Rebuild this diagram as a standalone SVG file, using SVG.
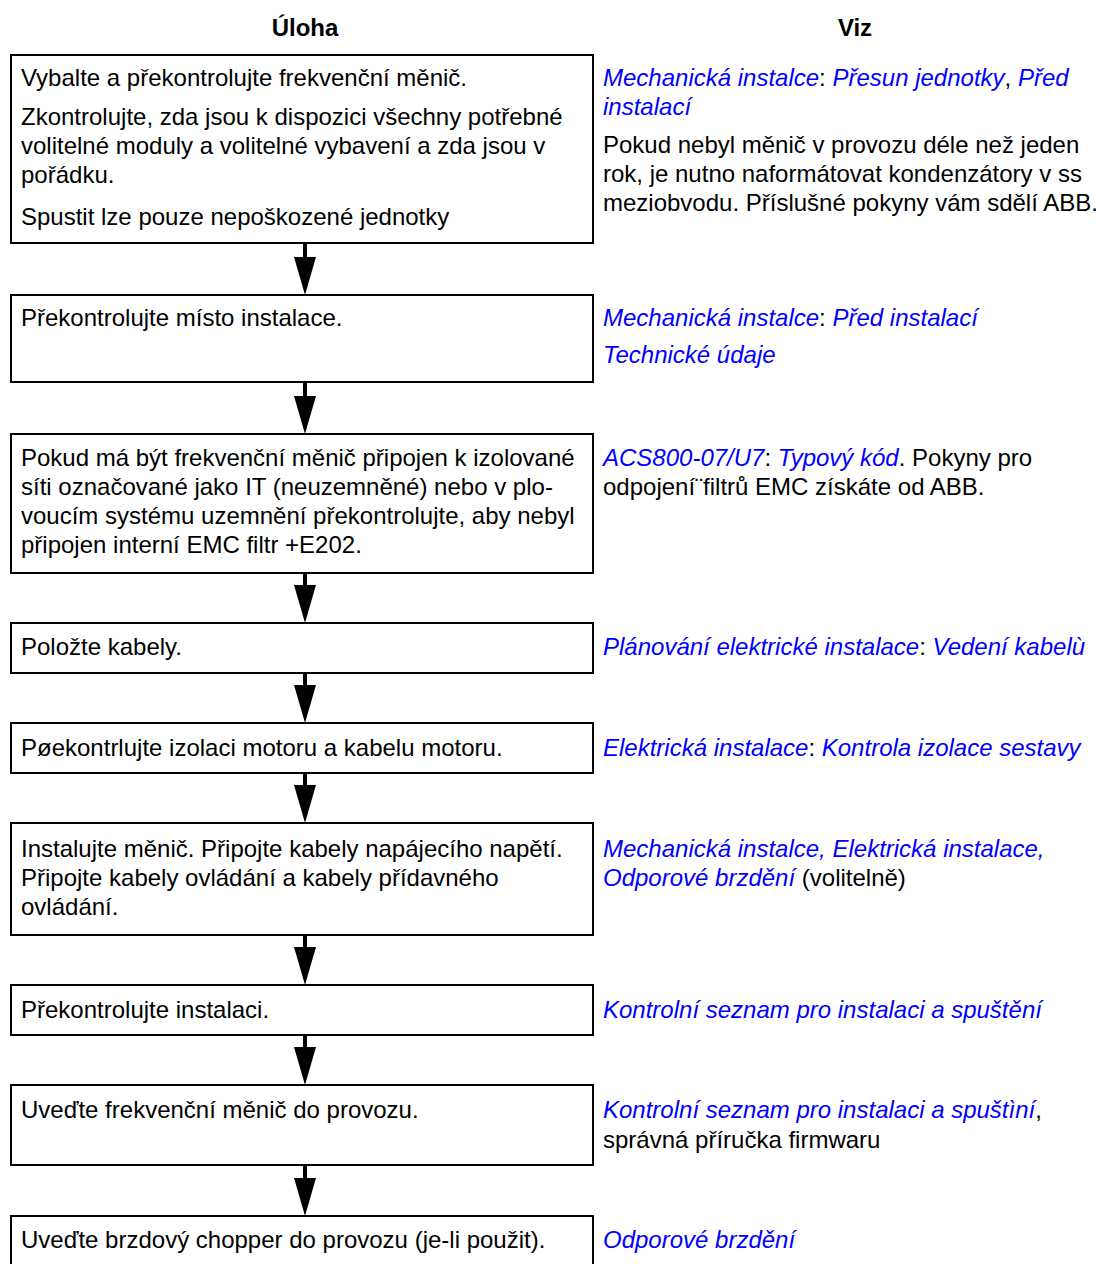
<svg xmlns="http://www.w3.org/2000/svg" width="1096" height="1264" viewBox="0 0 1096 1264">
<style>
text{font-family:"Liberation Sans",Arial,sans-serif;font-size:24px;fill:#000}
.h{font-weight:bold;text-anchor:middle}
.l{fill:#0000ff;font-style:italic}
.box{fill:none;stroke:#000;stroke-width:2}
.arr{fill:#000;stroke:none}
</style>
<rect width="1096" height="1264" fill="#fff"/>
<g id="headers">
<text class="h" x="305" y="36">Úloha</text>
<text class="h" x="855" y="36">Viz</text>
</g>
<g id="n1">
<rect class="box" x="11" y="55" width="582" height="188"/>
<text x="21" y="86">Vybalte a překontrolujte frekvenční měnič.</text>
<text x="21" y="125">Zkontrolujte, zda jsou k dispozici všechny potřebné</text>
<text x="21" y="154">volitelné moduly a volitelné vybavení a zda jsou v</text>
<text x="21" y="183">pořádku.</text>
<text x="21" y="225">Spustit lze pouze nepoškozené jednotky</text>
</g>
<g id="r1">
<text x="603" y="86"><tspan class="l">Mechanická instalce</tspan>: <tspan class="l">Přesun jednotky</tspan>, <tspan class="l">Před</tspan></text>
<text x="603" y="115"><tspan class="l">instalací</tspan></text>
<text x="603" y="153">Pokud nebyl měnič v provozu déle než jeden</text>
<text x="603" y="182">rok, je nutno naformátovat kondenzátory v ss</text>
<text x="603" y="211">meziobvodu. Příslušné pokyny vám sdělí ABB.</text>
</g>
<g id="n2">
<rect class="box" x="11" y="295" width="582" height="87"/>
<text x="21" y="326">Překontrolujte místo instalace.</text>
</g>
<g id="r2">
<text x="603" y="326"><tspan class="l">Mechanická instalce</tspan>: <tspan class="l">Před instalací</tspan></text>
<text x="603" y="363"><tspan class="l">Technické údaje</tspan></text>
</g>
<g id="n3">
<rect class="box" x="11" y="434" width="582" height="139"/>
<text x="21" y="466">Pokud má být frekvenční měnič připojen k izolované</text>
<text x="21" y="495">síti označované jako IT (neuzemněné) nebo v plo-</text>
<text x="21" y="524">voucím systému uzemnění překontrolujte, aby nebyl</text>
<text x="21" y="553">připojen interní EMC filtr +E202.</text>
</g>
<g id="r3">
<text x="603" y="466"><tspan class="l">ACS800-07/U7</tspan>: <tspan class="l">Typový kód</tspan>. Pokyny pro</text>
<text x="603" y="495">odpojení¨filtrů EMC získáte od ABB.</text>
</g>
<g id="n4">
<rect class="box" x="11" y="623" width="582" height="50"/>
<text x="21" y="655">Položte kabely.</text>
</g>
<g id="r4">
<text x="603" y="655"><tspan class="l">Plánování elektrické instalace</tspan>: <tspan class="l">Vedení kabelù</tspan></text>
</g>
<g id="n5">
<rect class="box" x="11" y="723" width="582" height="50"/>
<text x="21" y="756">Pøekontrlujte izolaci motoru a kabelu motoru.</text>
</g>
<g id="r5">
<text x="603" y="756"><tspan class="l">Elektrická instalace</tspan>: <tspan class="l">Kontrola izolace sestavy</tspan></text>
</g>
<g id="n6">
<rect class="box" x="11" y="823" width="582" height="112"/>
<text x="21" y="857">Instalujte měnič. Připojte kabely napájecího napětí.</text>
<text x="21" y="886">Připojte kabely ovládání a kabely přídavného</text>
<text x="21" y="915">ovládání.</text>
</g>
<g id="r6">
<text x="603" y="857"><tspan class="l">Mechanická instalce, Elektrická instalace,</tspan></text>
<text x="603" y="886"><tspan class="l">Odporové brzdění</tspan> (volitelně)</text>
</g>
<g id="n7">
<rect class="box" x="11" y="985" width="582" height="50"/>
<text x="21" y="1018">Překontrolujte instalaci.</text>
</g>
<g id="r7">
<text x="603" y="1018"><tspan class="l">Kontrolní seznam pro instalaci a spuštění</tspan></text>
</g>
<g id="n8">
<rect class="box" x="11" y="1085" width="582" height="80"/>
<text x="21" y="1118">Uveďte frekvenční měnič do provozu.</text>
</g>
<g id="r8">
<text x="603" y="1118"><tspan class="l">Kontrolní seznam pro instalaci a spuštìní</tspan>,</text>
<text x="603" y="1148">správná příručka firmwaru</text>
</g>
<g id="n9">
<rect class="box" x="11" y="1216" width="582" height="60"/>
<text x="21" y="1248">Uveďte brzdový chopper do provozu (je-li použit).</text>
</g>
<g id="r9">
<text x="603" y="1248"><tspan class="l">Odporové brzdění</tspan></text>
</g>
<g id="connectors">
<path class="arr" d="M303,243 h4 v14 h9 l-11,38 l-11,-38 h9 z"/>
<path class="arr" d="M303,382 h4 v14 h9 l-11,38 l-11,-38 h9 z"/>
<path class="arr" d="M303,573 h4 v12 h9 l-11,38 l-11,-38 h9 z"/>
<path class="arr" d="M303,673 h4 v12 h9 l-11,38 l-11,-38 h9 z"/>
<path class="arr" d="M303,773 h4 v12 h9 l-11,38 l-11,-38 h9 z"/>
<path class="arr" d="M303,935 h4 v12 h9 l-11,38 l-11,-38 h9 z"/>
<path class="arr" d="M303,1035 h4 v12 h9 l-11,38 l-11,-38 h9 z"/>
<path class="arr" d="M303,1165 h4 v13 h9 l-11,38 l-11,-38 h9 z"/>
</g>
</svg>
